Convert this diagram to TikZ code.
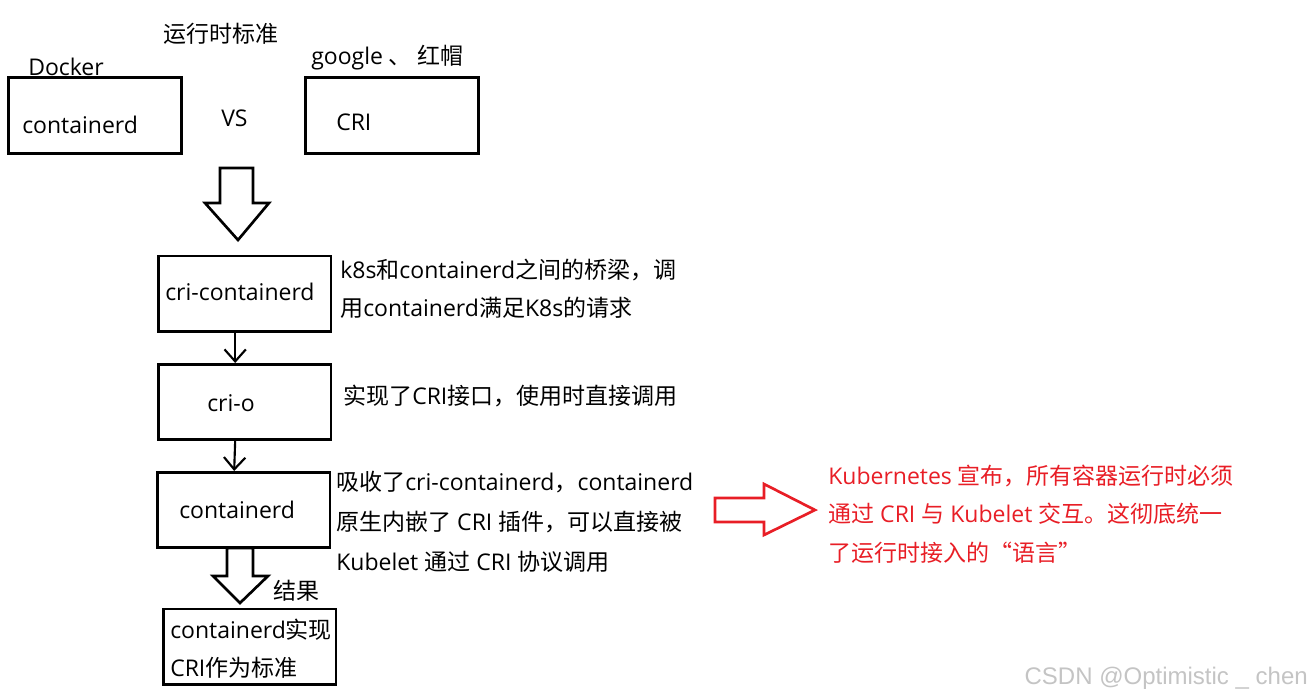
\documentclass[tikz,border=0pt]{standalone}
\usepackage{fontspec}
\setmainfont{Open Sans}
\newfontfamily\zhfont{Noto Sans CJK SC}
\newfontfamily\wmfont{Liberation Sans}
\newcommand{\zh}[1]{{\zhfont #1}}
\usepackage{tikz}
\usetikzlibrary{arrows.meta}
\definecolor{hongse}{RGB}{232,30,38}
\definecolor{shuiyin}{RGB}{196,196,196}
\tikzset{
  box/.style={draw, line width=2pt, minimum width=129.5pt, minimum height=56.5pt, inner sep=0pt},
  txt/.style={font=\fontsize{17.25pt}{28.5pt}\selectfont, inner sep=0pt, anchor=west, align=left},
  pfeil/.style={line width=1.6pt, -{Straight Barb[length=9pt, width=16pt, line width=1.6pt]}},
  hohl/.style={line width=2pt, line join=miter}
}

\begin{document}
\begin{tikzpicture}[x=0.75pt, y=-0.75pt]
  \useasboundingbox (0,0) rectangle (1314,699);
  % top: the two runtimes
  \node[box] (dkr) at (95,115.5) {};
  \node[box] (cri) at (392,115.5) {};
  \node[txt] (biaozhun) at (163,34) {\zh{运行时标准}};
  \node[txt] (docker) at (28,67) {Docker};
  \node[txt] (dkrtxt) at (22,125) {containerd};
  \node[txt] (vs) at (221,118) {VS};
  \node[txt] (google) at (311,58) {google \zh{、} \zh{红帽}};
  \node[txt] (critxt) at (336,122) {CRI};
  \draw[hohl] (220,168) -- (253,168) -- (253,203) -- (269,203) -- (238,240) -- (205,203) -- (220,203) -- cycle;

  % the chain
  \node[box] (crictd) at (244.5,293.5) {};
  \node[box] (crio) at (244.5,402) {};
  \node[box] (ctd) at (243.5,510) {};
  \node[box] (res) at (249.5,646.5) {};
  \node[txt] (crictdtxt) at (165,292) {cri-containerd};
  \node[txt] (criotxt) at (207,403) {cri-o};
  \node[txt] (ctdtxt) at (179,510) {containerd};
  \node[txt] (restxt) at (170,649) {containerd\zh{实现}\\CRI\zh{作为标准}};
  \foreach \a/\b in {crictd/crio, crio/ctd}
    \draw[pfeil] ([xshift=-7pt]\a.south) -- ([xshift=-7pt]\b.north);
  \draw[hohl] (227,548) -- (253,548) -- (253,576) -- (268,576) -- (240,603) -- (213,576) -- (227,576) -- cycle;
  \node[txt] (jieguo) at (273,591) {\zh{结果}};

  % notes
  \node[txt] (note1) at (340,289) {k8s\zh{和}containerd\zh{之间的桥梁，调}\\\zh{用}containerd\zh{满足}K8s\zh{的请求}};
  \node[txt] (note2) at (343,396) {\zh{实现了}CRI\zh{接口，使用时直接调用}};
  \node[txt, font=\fontsize{17.25pt}{30pt}\selectfont] (note3) at (336,522)
    {\zh{吸收了}cri-containerd\zh{，}containerd\\\zh{原生内嵌了} CRI \zh{插件，可以直接被}\\Kubelet \zh{通过} CRI \zh{协议调用}};

  % red conclusion
  \draw[hohl, hongse] (715,498) -- (764,498) -- (764,484) -- (815,510) -- (764,535) -- (764,522) -- (715,522) -- cycle;
  \node[txt, text=hongse, font=\fontsize{17.25pt}{29pt}\selectfont] (fazhan) at (828,514)
    {Kubernetes \zh{宣布，所有容器运行时必须}\\\zh{通过} CRI \zh{与} Kubelet \zh{交互。这彻底统一}\\\zh{了运行时接入的“语言”}};

  \node[txt, anchor=east, text=shuiyin, font=\wmfont\fontsize{18pt}{20pt}\selectfont] (wm) at (1308,678) {CSDN @Optimistic \_ chen};
\end{tikzpicture}
\end{document}
